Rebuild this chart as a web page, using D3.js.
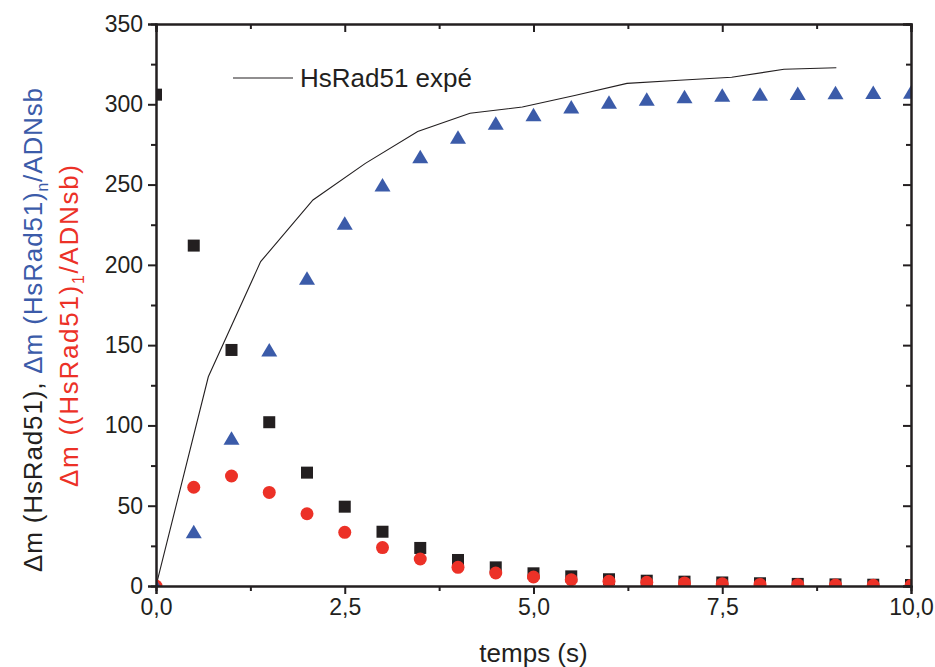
<!DOCTYPE html>
<html>
<head>
<meta charset="utf-8">
<script src="https://cdn.jsdelivr.net/npm/d3@7"></script>
<style>
  html, body { margin: 0; padding: 0; background: #fff; }
  svg { display: block; font-family: "Liberation Sans", Arial, Helvetica, sans-serif; }
</style>
</head>
<body>
<svg id="chart" width="935" height="667"></svg>
<script>
// ---- data ----
const time = [0, 0.5, 1, 1.5, 2, 2.5, 3, 3.5, 4, 4.5, 5, 5.5, 6, 6.5, 7, 7.5, 8, 8.5, 9, 9.5, 10];
const totalHsRad51 = [306, 212, 147, 102, 70.6, 49.4, 33.8, 23.7, 16.2, 11.6, 7.9, 6.0, 4.2, 3.3, 2.7, 2.2, 1.7, 1.3, 1.0, 0.8, 0.6];
const monomerADNsb = [0, 61.5, 68.5, 58.3, 45, 33.4, 23.9, 16.8, 11.6, 8.1, 5.6, 3.9, 2.9, 2.3, 1.9, 1.4, 1.0, 0.8, 0.6, 0.4, 0.3];
const polymerADNsb = [0, 33.8, 92, 147, 191.6, 225.9, 249.7, 267.4, 279.4, 288.2, 293.5, 298.3, 301.3, 303.2, 304.7, 305.7, 306.3, 306.7, 307.2, 307.3, 307.5];
const expTime = [0, 0.693, 1.386, 2.079, 2.773, 3.466, 4.159, 4.852, 5.545, 6.238, 6.931, 7.625, 8.318, 9.011];
const expValue = [0, 130.3, 202, 240.4, 263.2, 283, 294.4, 298.3, 305.5, 313, 315, 316.8, 321.8, 322.8];
const xTicks = [0, 2.5, 5, 7.5, 10];
const xTickLabels = ["0,0", "2,5", "5,0", "7,5", "10,0"];
const yTicks = [0, 50, 100, 150, 200, 250, 300, 350];
const legendLabel = "HsRad51 expé";
const xTitle = "temps (s)";

// ---- layout ----
const colBlack = "#231f20", colRed = "#ec3127", colBlue = "#3b5ba9";
const svg = d3.select("#chart");
const x = d3.scaleLinear().domain([0, 10]).range([156, 911]);
const y = d3.scaleLinear().domain([0, 350]).range([586, 24]);
const [x0, x1] = x.range(), [y0, y1] = y.range();

svg.append("clipPath").attr("id", "plotclip")
  .append("rect").attr("x", x0).attr("y", y1).attr("width", x1 - x0).attr("height", y0 - y1);

const plot = svg.append("g").attr("clip-path", "url(#plotclip)");

// experimental line
plot.append("path")
  .datum(expTime.map((t, i) => [t, expValue[i]]))
  .attr("fill", "none").attr("stroke", colBlack).attr("stroke-width", 1.1)
  .attr("d", d3.line().x(d => x(d[0])).y(d => y(d[1])));

// squares
plot.selectAll("rect.sq").data(time.map((t, i) => [t, totalHsRad51[i]])).join("rect")
  .attr("class", "sq")
  .attr("x", d => x(d[0]) - 6).attr("y", d => y(d[1]) - 6)
  .attr("width", 12).attr("height", 12).attr("fill", colBlack);

// circles
plot.selectAll("circle.ci").data(time.map((t, i) => [t, monomerADNsb[i]])).join("circle")
  .attr("class", "ci")
  .attr("cx", d => x(d[0])).attr("cy", d => y(d[1])).attr("r", 6.5).attr("fill", colRed);

// triangles
const tri = (cx, cy) => `M${cx},${cy - 7}L${cx + 8},${cy + 6.5}L${cx - 8},${cy + 6.5}Z`;
plot.selectAll("path.tr").data(time.map((t, i) => [t, polymerADNsb[i]])).join("path")
  .attr("class", "tr")
  .attr("d", d => tri(x(d[0]), y(d[1]))).attr("fill", colBlue);

// ---- axes ----
const minorX = d3.range(0, 10.01, 1.25).filter(v => xTicks.indexOf(v) < 0);
const minorY = d3.range(25, 350, 50);

function styleAxis(g) {
  g.select(".domain").attr("stroke", colBlack).attr("stroke-width", 2);
  g.selectAll(".tick line").attr("stroke", colBlack).attr("stroke-width", 2);
  g.selectAll(".tick text").attr("fill", "#231f20").attr("font-size", 23)
    .attr("font-family", "Liberation Sans, Arial, sans-serif");
}

// bottom
svg.append("g").attr("transform", `translate(0,${y0})`)
  .call(d3.axisBottom(x).tickValues(minorX).tickSize(5).tickFormat(""))
  .call(styleAxis);
svg.append("g").attr("transform", `translate(0,${y0})`)
  .call(d3.axisBottom(x).tickValues(xTicks).tickSize(8).tickPadding(5)
        .tickFormat((d, i) => xTickLabels[i]))
  .call(styleAxis);
// left
svg.append("g").attr("transform", `translate(${x0},0)`)
  .call(d3.axisLeft(y).tickValues(minorY).tickSize(5).tickFormat(""))
  .call(styleAxis);
svg.append("g").attr("transform", `translate(${x0},0)`)
  .call(d3.axisLeft(y).tickValues(yTicks).tickSize(8).tickPadding(5))
  .call(styleAxis);
// top (inward ticks)
svg.append("g").attr("transform", `translate(0,${y1})`)
  .call(d3.axisBottom(x).tickValues(minorX).tickSize(5).tickFormat(""))
  .call(styleAxis);
svg.append("g").attr("transform", `translate(0,${y1})`)
  .call(d3.axisBottom(x).tickValues(xTicks).tickSize(8).tickFormat(""))
  .call(styleAxis);
// right (inward ticks)
svg.append("g").attr("transform", `translate(${x1},0)`)
  .call(d3.axisLeft(y).tickValues(minorY).tickSize(5).tickFormat(""))
  .call(styleAxis);
svg.append("g").attr("transform", `translate(${x1},0)`)
  .call(d3.axisLeft(y).tickValues(yTicks).tickSize(8).tickFormat(""))
  .call(styleAxis);

// ---- legend ----
svg.append("line").attr("x1", 233).attr("x2", 293).attr("y1", 78).attr("y2", 78)
  .attr("stroke", colBlack).attr("stroke-width", 1.1);
svg.append("text").attr("x", 300).attr("y", 87).attr("font-size", 26)
  .attr("fill", colBlack).text(legendLabel);

// ---- axis titles ----
svg.append("text").attr("x", x(5)).attr("y", 662).attr("text-anchor", "middle")
  .attr("font-size", 26).attr("fill", colBlack).text(xTitle);

const fs = 26;
const t1 = svg.append("text").attr("transform", "translate(42,572) rotate(-90)")
  .attr("font-size", fs);
t1.append("tspan").attr("fill", colBlack).text("\u0394m (HsRad51), ");
t1.append("tspan").attr("fill", colBlue).text("\u0394m (HsRad51)");
t1.append("tspan").attr("fill", colBlue).attr("font-size", fs * 0.6).attr("dy", 6).text("n");
t1.append("tspan").attr("fill", colBlue).attr("dy", -6).text("/ADNsb");

const t2 = svg.append("text").attr("transform", "translate(78,487) rotate(-90)")
  .attr("font-size", fs);
t2.append("tspan").attr("fill", colRed).text("\u0394m ((HsRad51)");
t2.append("tspan").attr("fill", colRed).attr("font-size", fs * 0.6).attr("dy", 6).text("1");
t2.append("tspan").attr("fill", colRed).attr("dy", -6).text("/ADNsb)");

// stretch the title lines to the length they have in the reference
function fitLength(t, target) {
  const n = t.text().length;
  const len = t.node().getComputedTextLength();
  if (len > 0 && n > 1) t.attr("letter-spacing", (target - len) / (n - 1));
}
fitLength(t1, 484);
fitLength(t2, 322);
</script>
</body>
</html>
